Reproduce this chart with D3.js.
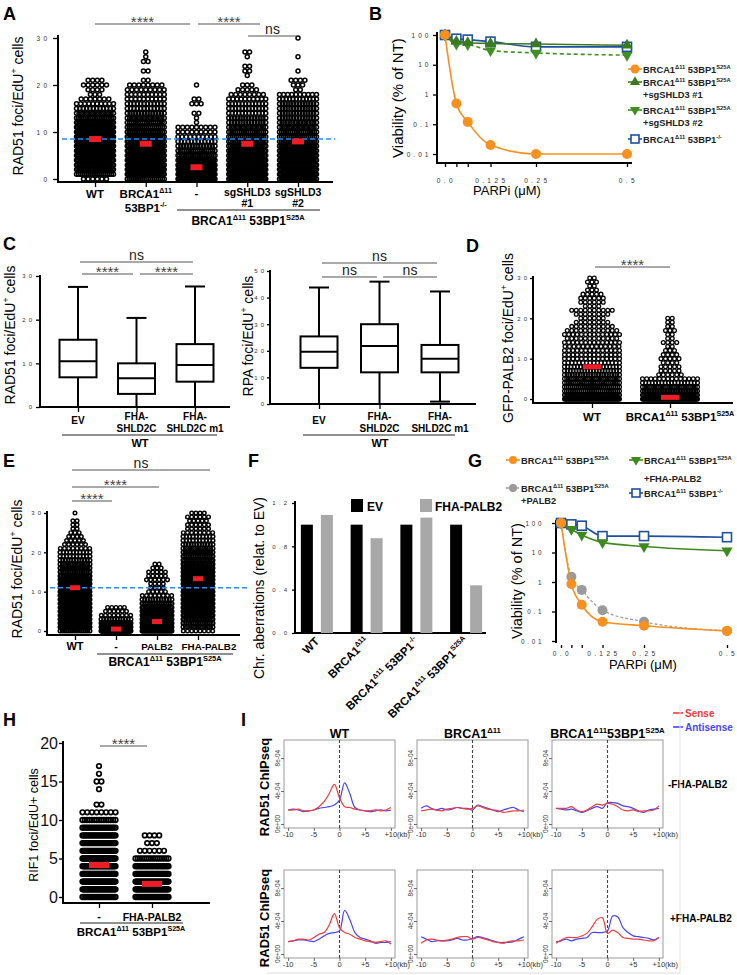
<!DOCTYPE html>
<html>
<head>
<meta charset="utf-8">
<script src="https://cdn.jsdelivr.net/npm/d3@7"></script>
<style>html,body{margin:0;padding:0;background:#fff;}</style>
</head>
<body>
<script>
// ================= DATA =================
// Panel A : RAD51 foci / EdU+ cell. counts = number of cells at each foci value (index = foci)
const catsA = ["WT", "53BP1KO", "S25A", "S25A_sg1", "S25A_sg2"];
const countsA_WT   = [6,20,28,30,32,34,36,38,38,36,34,32,30,22,16,12,10,7,3,4,6,4];
const countsA_KO   = [20,35,35,34,32,30,28,28,26,24,22,20,18,16,14,12,12,10,10,9,8,2,0,2,0,2,1,1];
const countsA_S25A = [40,45,40,35,28,22,18,14,12,10,9,9,1,1,2,0,3,2,0,0,1];
const countsA_sg1  = [30,35,34,32,30,28,26,24,22,20,18,16,14,14,12,12,12,10,8,5,3,0,1,2,2,0,1,2];
const countsA_sg2  = [25,32,32,30,28,28,26,24,22,20,18,16,15,14,14,14,14,12,10,2,3,4,0,1,0,0,1,0,0,0,1];
const meansA = [8.5, 7.5, 2.5, 7.5, 8.0];
const refA = 8.5;
const ticksA = [0, 10, 20, 30];

// Panel B : viability (% of NT) vs PARPi dose
const dosesB = [0, 0.03125, 0.0625, 0.125, 0.25, 0.5];
const viabB_S25A = [100, 0.5, 0.12, 0.02, 0.01, 0.01];
const viabB_sg1  = [100, 60, 55, 52, 50, 45];
const viabB_sg2  = [100, 50, 48, 30, 25, 21];
const viabB_KO   = [100, 75, 70, 60, 40, 40];
const ticksB_y = [0.01, 0.1, 1, 10, 100];
const ticksB_x = [0, 0.125, 0.25, 0.5];
const tickLabelsB_x = ["0.0", "0.125", "0.25", "0.5"];

// Panel C : box plots (whisker low, Q1, median, Q3, whisker high)
const catsC = ["EV", "FHA-SHLD2C", "FHA-SHLD2C m1"];
const rad51C_low = [0, 0, 0];
const rad51C_q1  = [6.8, 3.0, 5.8];
const rad51C_med = [10.5, 6.6, 9.6];
const rad51C_q3  = [15.4, 10.0, 14.4];
const rad51C_high= [27.5, 20.4, 27.6];
const rpaC_low  = [0, 0, 0.9];
const rpaC_q1   = [13.6, 11.9, 11.9];
const rpaC_med  = [19.6, 21.8, 17.0];
const rpaC_q3   = [25.4, 30.0, 22.2];
const rpaC_high = [43.8, 46.0, 42.3];
const ticksC_rad = [0, 10, 20, 30];
const ticksC_rpa = [0, 10, 20, 30, 40, 50];

// Panel D : GFP-PALB2 foci
const catsD = ["WT", "S25A"];
const countsD_WT   = [60,40,30,28,26,25,22,20,18,16,14,14,14,13,14,12,14,12,10,8,6,8,10,4,6,6,5,3,2,3,2];
const countsD_S25A = [70,50,35,25,18,14,6,5,5,4,5,4,3,2,4,2,2,3,2,2,2];
const meansD = [8.0, 0.4];
const ticksD = [0, 10, 20, 30];

// Panel E : RAD51 foci
const catsE = ["WT", "S25A", "S25A_PALB2", "S25A_FHA-PALB2"];
const countsE_WT    = [15,30,32,34,34,34,34,34,34,32,30,30,28,26,22,18,16,14,12,10,10,8,6,5,4,3,2,2,2,0,1];
const countsE_S25A  = [80,60,30,12,8,6,5];
const countsE_PALB2 = [40,45,40,35,30,25,22,18,12,8,5,4,4,6,5,5,3,2];
const countsE_FHA   = [8,14,18,20,22,24,24,26,26,28,28,28,28,28,26,26,24,22,20,18,16,14,12,10,10,8,6,6,5,6,4];
const meansE = [11, 0.5, 2.4, 13.3];
const refE = 11;
const ticksE = [0, 10, 20, 30];

// Panel F : chromosome aberrations relative to EV
const groupsF = ["WT", "BRCA1^Δ11^", "BRCA1^Δ11^ 53BP1^-/-^", "BRCA1^Δ11^ 53BP1^S25A^"];
const seriesF = ["EV", "FHA-PALB2"];
const valuesF_EV  = [1.0, 1.0, 1.0, 1.0];
const valuesF_FHA = [1.09, 0.875, 1.065, 0.44];
const ticksF = [0, 0.4, 0.8, 1.2];
const tickLabelsF = ["0.0", "0.4", "0.8", "1.2"];

// Panel G : viability vs PARPi
const dosesG = [0, 0.03125, 0.0625, 0.125, 0.25, 0.5];
const viabG_S25A  = [100, 0.85, 0.17, 0.045, 0.033, 0.022];
const viabG_PALB2 = [100, 1.5, 0.54, 0.11, 0.045, 0.022];
const viabG_FHA   = [100, 61, 39, 22, 16, 11.5];
const viabG_KO    = [100, 90, 81, 36, 36, 33];

// Panel H : RIF1 foci
const catsH = ["-", "FHA-PALB2"];
const countsH_neg = [20,40,45,45,42,38,34,28,24,20,15,8,2,0,1,2,1,1];
const countsH_FHA = [25,40,40,35,28,16,6,3,4];
const meansH = [4.15, 1.7];
const ticksH = [0, 5, 10, 15, 20];

// Panel I : RAD51 ChIP-seq profiles (units of 1e-4), positions -10..+10 kb
const kbPos = d3.range(-10, 11, 1);
const kbTicks = [-10, -5, 0, 5, 10];
const kbLabels = ["-10", "-5", "0", "+5", "+10(kb)"];
const chipTicks = [0, 4, 8];
const chipLabels = ["0e+00", "4e-04", "8e-04"];
const sense_WT_minus   = [1.7,1.7,1.8,1.6,1.6,1.7,2.1,2.7,3.7,4.8,3.2,2.1,2.0,1.8,1.7,1.6,1.6,1.7,1.6,1.7,2.0];
const anti_WT_minus    = [1.7,1.8,1.7,1.5,1.6,1.7,1.9,2.0,2.1,2.3,2.9,5.0,3.7,2.0,1.7,1.6,1.5,1.6,1.7,1.6,1.7];
const sense_D11_minus  = [1.6,1.7,1.8,1.7,1.6,1.8,1.9,2.0,1.9,1.8,1.9,2.2,2.0,1.8,1.7,1.6,1.4,1.5,1.6,1.6,1.7];
const anti_D11_minus   = [1.9,2.2,1.9,1.7,1.9,1.7,1.8,2.0,1.9,1.9,1.7,2.3,2.1,1.9,1.7,1.5,1.7,1.9,2.0,1.7,1.5];
const sense_S25A_minus = [1.9,1.9,1.9,2.1,1.7,1.5,1.7,2.1,2.4,2.3,2.5,2.4,2.1,1.7,1.6,1.7,1.5,1.6,1.6,1.7,2.2];
const anti_S25A_minus  = [1.9,1.8,1.7,1.8,1.6,1.4,1.6,1.9,2.1,1.9,2.6,2.6,2.5,2.2,2.1,1.9,1.6,1.4,1.7,1.8,1.9];
const sense_WT_plus    = [1.5,1.6,1.8,1.8,1.7,2.0,2.4,2.6,3.5,4.9,3.2,2.6,2.4,2.0,1.8,1.6,1.5,1.4,1.5,1.6,1.2];
const anti_WT_plus     = [1.5,1.6,1.7,1.7,1.6,1.5,1.8,2.2,2.5,2.6,2.8,5.3,4.2,2.6,2.0,1.8,1.6,1.3,1.4,1.4,1.5];
const sense_D11_plus   = [1.3,1.7,1.8,1.7,1.6,1.7,1.8,2.0,2.1,2.1,1.8,2.0,1.9,1.7,1.5,1.4,1.3,1.5,1.6,1.6,1.7];
const anti_D11_plus    = [2.1,1.8,1.5,1.6,1.6,1.6,1.7,1.9,1.7,1.7,1.9,2.1,2.0,1.8,1.6,1.4,1.4,1.4,1.5,1.8,2.1];
const sense_S25A_plus  = [1.3,1.7,2.0,2.0,2.0,2.2,2.5,3.3,4.2,4.4,2.5,2.9,2.6,2.0,1.9,1.8,1.8,1.7,1.6,1.6,2.0];
const anti_S25A_plus   = [1.5,1.6,1.8,1.6,1.8,1.9,2.0,2.6,2.6,2.6,2.8,4.6,4.5,3.2,2.6,2.2,2.1,2.0,1.9,1.7,2.0];
const chipTitles = ["WT", "BRCA1^Δ11^", "BRCA1^Δ11^53BP1^S25A^"];

// ================= DRAWING =================
const FONT = "Arial, 'Liberation Sans', Helvetica, sans-serif";
const svg = d3.select("body").append("svg").attr("width", 737).attr("height", 975)
  .attr("font-family", FONT);
svg.append("rect").attr("width", 737).attr("height", 975).attr("fill", "#fff");

const spaced = s => String(s).split("").join(" ");

function rich(t, str, fs) {
  let shift = 0;
  str.split("^").forEach((p, i) => {
    if (!p) return;
    const sup = i % 2 === 1;
    const target = sup ? -0.42 * fs : 0;
    const ts = t.append("tspan").text(p);
    if (target - shift !== 0) ts.attr("dy", target - shift);
    if (sup) ts.attr("font-size", fs * 0.62);
    shift = target;
  });
}
function txt(g, x, y, str, o = {}) {
  const fs = o.fs || 11;
  const t = g.append("text").attr("x", x).attr("y", y).attr("font-size", fs)
    .attr("text-anchor", o.anchor || "middle").attr("font-weight", o.bold ? "bold" : "normal")
    .attr("fill", o.fill || "#000");
  if (o.rot != null) t.attr("transform", `rotate(${o.rot},${x},${y})`);
  if (o.ls != null) t.attr("letter-spacing", o.ls);
  rich(t, str, fs);
  return t;
}
function hline(g, y, x0, x1, w, c, dash) {
  const l = g.append("line").attr("x1", x0).attr("x2", x1).attr("y1", y).attr("y2", y)
    .attr("stroke", c || "#000").attr("stroke-width", w || 1);
  if (dash) l.attr("stroke-dasharray", dash);
  return l;
}
function vline(g, x, y0, y1, w, c, dash) {
  const l = g.append("line").attr("x1", x).attr("x2", x).attr("y1", y0).attr("y2", y1)
    .attr("stroke", c || "#000").attr("stroke-width", w || 1);
  if (dash) l.attr("stroke-dasharray", dash);
  return l;
}
function gpYAxis(g, x, scale, ticks, o) {
  const ax = d3.axisLeft(scale).tickValues(ticks).tickSize(o.ts).tickPadding(o.pad)
    .tickFormat(o.fmt || (d => spaced(d)));
  const a = g.append("g").attr("transform", `translate(${x},0)`).call(ax)
    .attr("font-family", FONT).attr("font-size", o.fs || 6.5);
  a.select(".domain").remove();
  a.selectAll(".tick line").attr("stroke", "#000").attr("stroke-width", o.tw || 1.3);
  a.selectAll(".tick text").attr("fill", o.fill || "#333").attr("letter-spacing", o.ls == null ? 0.8 : o.ls);
  if (o.y0 != null) vline(g, x, o.y0, o.y1, o.lw || 2);
  return a;
}
function catTicks(g, scale, y, len, vals) {
  const ax = d3.axisBottom(scale).tickSize(len).tickFormat("");
  if (vals) ax.tickValues(vals);
  const a = g.append("g").attr("transform", `translate(0,${y})`).call(ax);
  a.select(".domain").remove();
  a.selectAll(".tick line").attr("stroke", "#000").attr("stroke-width", 1.3);
  return a;
}
function swarm(g, cx, counts, y, maxW, r, sp, sw) {
  const pts = [];
  counts.forEach((n, v) => {
    if (!n) return;
    const w = Math.min((n - 1) * sp, maxW);
    const s = n > 1 ? w / (n - 1) : 0;
    for (let i = 0; i < n; i++) pts.push({ x: cx - w / 2 + i * s, v });
  });
  g.append("g").selectAll("circle").data(pts).join("circle")
    .attr("cx", d => d.x).attr("cy", d => y(d.v)).attr("r", r)
    .attr("fill", "none").attr("stroke", "#000").attr("stroke-width", sw || 1.5);
}
function meanBar(g, cx, y, w, h) {
  g.append("rect").attr("x", cx - w / 2).attr("y", y - h / 2).attr("width", w).attr("height", h)
    .attr("fill", "#ee1c24");
}
function sig(g, x0, x1, y, label) {
  hline(g, y, x0, x1, 1.2, "#555");
  if (label === "ns") txt(g, (x0 + x1) / 2, y - 2, "ns", { fs: 14, fill: "#222" });
  else txt(g, (x0 + x1) / 2, y + 2.5, label, { fs: 15, fill: "#444" });
}
function marker(g, type, x, y, color, sz) {
  if (type === "circle") {
    g.append("circle").attr("cx", x).attr("cy", y).attr("r", sz).attr("fill", color);
  } else if (type === "up" || type === "down") {
    g.append("path").attr("d", d3.symbol(d3.symbolTriangle, sz * sz * 2.2)())
      .attr("transform", `translate(${x},${y})` + (type === "down" ? " rotate(180)" : ""))
      .attr("fill", color);
  } else if (type === "square") {
    g.append("rect").attr("x", x - sz).attr("y", y - sz).attr("width", 2 * sz).attr("height", 2 * sz)
      .attr("fill", "#fff").attr("stroke", color).attr("stroke-width", 1.6);
  }
}
function series(g, xs, ys, doses, vals, o) {
  const pts = doses.map((d, i) => [xs(d), ys(vals[i])]);
  const p = g.append("path").attr("d", d3.line().curve(d3.curveMonotoneX)(pts))
    .attr("fill", "none").attr("stroke", o.color).attr("stroke-width", o.lw || 1.6);
  if (o.dash) p.attr("stroke-dasharray", o.dash);
  pts.forEach(q => marker(g, o.type, q[0], q[1], o.mcolor || o.color, o.sz));
}
function legendItem(g, x, y, type, color, sz, label, label2, fs, dash) {
  const l = hline(g, y, x - 7, x + 7, 1.6, color);
  if (dash) l.attr("stroke-dasharray", dash);
  marker(g, type, x, y, color, sz);
  txt(g, x + 8, y + 3.5, label, { fs: fs, bold: true, anchor: "start", fill: "#222" });
  if (label2) txt(g, x + 8, y + 16, label2, { fs: fs, bold: true, anchor: "start", fill: "#222" });
}

// Panel letters
[["A", 3, 20], ["B", 369, 20], ["C", 3, 250], ["D", 466, 252], ["E", 3, 467], ["F", 248, 467],
 ["G", 468, 467], ["H", 3, 726], ["I", 241, 726]].forEach(p =>
  txt(svg, p[1], p[2], p[0], { fs: 18, bold: true, anchor: "start" }));

// ---------- Panel A ----------
{
  const g = svg.append("g");
  const xA = d3.scalePoint().domain(catsA).range([95, 298]);
  const yA = d3.scaleLinear().domain([0, 30]).range([179, 38]);
  gpYAxis(g, 58, yA, ticksA, { ts: 5, pad: 5, y0: 35, y1: 183 });
  hline(g, 182, 57, 333, 2);
  catTicks(g, xA, 183, 4);
  [countsA_WT, countsA_KO, countsA_S25A, countsA_sg1, countsA_sg2].forEach((c, i) =>
    swarm(g, xA(catsA[i]), c, yA, 37, 2.0, 4.6, 1.5));
  hline(g, yA(refA), 62, 335, 1.6, "#1e8fff", "5,3");
  meansA.forEach((m, i) => meanBar(g, xA(catsA[i]), yA(m), 12, 6));
  txt(g, 23, 106, "RAD51 foci/EdU^+^ cells", { fs: 14, rot: -90 });
  sig(g, 95, 190, 24, "****");
  sig(g, 198, 260, 24, "****");
  sig(g, 248, 297, 36, "ns");
  txt(g, xA(catsA[0]), 198, "WT", { fs: 11.5, bold: true });
  txt(g, xA(catsA[1]), 198, "BRCA1^Δ11^", { fs: 11.5, bold: true });
  txt(g, xA(catsA[1]), 212, "53BP1^-/-^", { fs: 11.5, bold: true });
  txt(g, xA(catsA[2]), 197, "-", { fs: 11.5, bold: true });
  txt(g, xA(catsA[3]), 196, "sgSHLD3", { fs: 10.5, bold: true });
  txt(g, xA(catsA[3]), 207, "#1", { fs: 10.5, bold: true });
  txt(g, xA(catsA[4]), 196, "sgSHLD3", { fs: 10.5, bold: true });
  txt(g, xA(catsA[4]), 207, "#2", { fs: 10.5, bold: true });
  hline(g, 210, 177, 320, 1.2, "#222");
  txt(g, 248, 225, "BRCA1^Δ11^ 53BP1^S25A^", { fs: 12, bold: true });
}

// ---------- Panel B ----------
{
  const g = svg.append("g");
  const xB = d3.scaleLinear().domain([0, 0.5]).range([445, 627]);
  const yB = d3.scaleLog().domain([0.01, 100]).range([154, 35]);
  gpYAxis(g, 437, yB, ticksB_y, { ts: 4, pad: 4, y0: 32, y1: 164, ls: 0.6 });
  hline(g, 163, 436, 632, 2);
  const ax = d3.axisBottom(xB).tickValues(dosesB).tickSize(4).tickFormat("");
  const a = g.append("g").attr("transform", "translate(0,163)").call(ax);
  a.select(".domain").remove();
  a.selectAll(".tick line").attr("stroke-width", 1.3);
  ticksB_x.forEach((t, i) => txt(g, xB(t), 183, spaced(tickLabelsB_x[i]), { fs: 6.5, fill: "#333", ls: 0.8 }));
  txt(g, 507, 195, "PARPi (μM)", { fs: 13 });
  txt(g, 403, 98, "Viability (% of NT)", { fs: 15, rot: -90 });
  series(g, xB, yB, dosesB, viabB_KO, { color: "#1f4fa0", type: "square", sz: 4.5 });
  series(g, xB, yB, dosesB, viabB_sg2, { color: "#3f8f22", type: "down", sz: 5, dash: "4,3" });
  series(g, xB, yB, dosesB, viabB_sg1, { color: "#3b7a1f", type: "up", sz: 5 });
  series(g, xB, yB, dosesB, viabB_S25A, { color: "#f7901e", type: "circle", sz: 5 });
  legendItem(g, 635, 69, "circle", "#f7901e", 4.5, "BRCA1^Δ11^ 53BP1^S25A^", null, 9.3);
  legendItem(g, 635, 82, "up", "#3b7a1f", 4.5, "BRCA1^Δ11^ 53BP1^S25A^", "+sgSHLD3 #1", 9.3);
  legendItem(g, 635, 110, "down", "#3f8f22", 4.5, "BRCA1^Δ11^ 53BP1^S25A^", "+sgSHLD3 #2", 9.3);
  legendItem(g, 635, 139, "square", "#1f4fa0", 4, "BRCA1^Δ11^ 53BP1^-/-^", null, 9.3);
}

// ---------- Panel C ----------
function boxPlot(g, xs, ys, cats, low, q1, med, q3, high) {
  cats.forEach((c, i) => {
    const cx = xs(c);
    vline(g, cx, ys(high[i]), ys(q3[i]), 2);
    vline(g, cx, ys(q1[i]), ys(low[i]), 2);
    hline(g, ys(high[i]), cx - 10, cx + 10, 2);
    if (low[i] > 0.5) hline(g, ys(low[i]), cx - 10, cx + 10, 2);
    g.append("rect").attr("x", cx - 18.5).attr("y", ys(q3[i])).attr("width", 37)
      .attr("height", ys(q1[i]) - ys(q3[i])).attr("fill", "#fff").attr("stroke", "#000").attr("stroke-width", 2);
    hline(g, ys(med[i]), cx - 18.5, cx + 18.5, 2);
  });
}
{
  const g = svg.append("g");
  const xC = d3.scalePoint().domain(catsC).range([78, 195]);
  const yC = d3.scaleLinear().domain([0, 30]).range([407, 276]);
  gpYAxis(g, 40, yC, ticksC_rad, { ts: 4, pad: 3, y0: 275, y1: 408, fs: 6 });
  hline(g, 407, 39, 230, 2);
  catTicks(g, xC, 408, 4);
  boxPlot(g, xC, yC, catsC, rad51C_low, rad51C_q1, rad51C_med, rad51C_q3, rad51C_high);
  txt(g, 15, 335, "RAD51 foci/EdU^+^ cells", { fs: 14, rot: -90 });
  sig(g, 80, 193, 262, "ns");
  sig(g, 82, 133, 274, "****");
  sig(g, 140, 193, 274, "****");
  txt(g, xC(catsC[0]), 424, "EV", { fs: 10, bold: true });
  txt(g, xC(catsC[1]), 420, "FHA-", { fs: 10, bold: true });
  txt(g, xC(catsC[1]), 432, "SHLD2C", { fs: 10, bold: true });
  txt(g, xC(catsC[2]), 420, "FHA-", { fs: 10, bold: true });
  txt(g, xC(catsC[2]), 432, "SHLD2C m1", { fs: 10, bold: true });
  hline(g, 435, 62, 217, 1.2, "#222");
  txt(g, 140, 447, "WT", { fs: 11, bold: true });

  const xR = d3.scalePoint().domain(catsC).range([319, 440]);
  const yR = d3.scaleLinear().domain([0, 50]).range([404, 271]);
  gpYAxis(g, 270, yR, ticksC_rpa, { ts: 3, pad: 2, y0: 270, y1: 405, fs: 6 });
  hline(g, 404, 269, 476, 2);
  catTicks(g, xR, 405, 4);
  boxPlot(g, xR, yR, catsC, rpaC_low, rpaC_q1, rpaC_med, rpaC_q3, rpaC_high);
  txt(g, 253, 336, "RPA foci/EdU^+^ cells", { fs: 14, rot: -90 });
  sig(g, 322, 437, 263, "ns");
  sig(g, 322, 377, 277, "ns");
  sig(g, 383, 437, 277, "ns");
  txt(g, xR(catsC[0]), 424, "EV", { fs: 10, bold: true });
  txt(g, xR(catsC[1]), 420, "FHA-", { fs: 10, bold: true });
  txt(g, xR(catsC[1]), 432, "SHLD2C", { fs: 10, bold: true });
  txt(g, xR(catsC[2]), 420, "FHA-", { fs: 10, bold: true });
  txt(g, xR(catsC[2]), 432, "SHLD2C m1", { fs: 10, bold: true });
  hline(g, 435, 303, 455, 1.2, "#222");
  txt(g, 380, 447, "WT", { fs: 11, bold: true });
}

// ---------- Panel D ----------
{
  const g = svg.append("g");
  const xD = d3.scalePoint().domain(catsD).range([592, 670]);
  const yD = d3.scaleLinear().domain([0, 30]).range([399, 278]);
  gpYAxis(g, 533, yD, ticksD, { ts: 3, pad: 2, y0: 276, y1: 404, fs: 6 });
  hline(g, 403, 532, 733, 2);
  catTicks(g, xD, 404, 4);
  [countsD_WT, countsD_S25A].forEach((c, i) => swarm(g, xD(catsD[i]), c, yD, 55, 1.9, 4.5, 1.3));
  meansD.forEach((m, i) => meanBar(g, xD(catsD[i]), yD(m), 18, 5));
  txt(g, 513, 338, "GFP-PALB2 foci/EdU^+^ cells", { fs: 14, rot: -90 });
  sig(g, 595, 670, 267, "****");
  txt(g, 592, 421, "WT", { fs: 11.5, bold: true });
  txt(g, 680, 421, "BRCA1^Δ11^ 53BP1^S25A^", { fs: 11.5, bold: true });
}

// ---------- Panel E ----------
{
  const g = svg.append("g");
  const xE = d3.scalePoint().domain(catsE).range([75, 198]);
  const yE = d3.scaleLinear().domain([0, 30]).range([631, 513]);
  gpYAxis(g, 47, yE, ticksE, { ts: 3, pad: 2, y0: 511, y1: 636, fs: 6 });
  hline(g, 635, 46, 240, 2);
  catTicks(g, xE, 636, 4);
  [countsE_WT, countsE_S25A, countsE_PALB2, countsE_FHA].forEach((c, i) =>
    swarm(g, xE(catsE[i]), c, yE, 30, 1.8, 4.2, 1.45));
  hline(g, yE(refE), 50, 248, 1.6, "#1e8fff", "5,3");
  meansE.forEach((m, i) => meanBar(g, xE(catsE[i]), yE(m), 10, 5));
  txt(g, 22, 569, "RAD51 foci/EdU^+^ cells", { fs: 14, rot: -90 });
  sig(g, 72, 210, 470, "ns");
  sig(g, 72, 159, 487, "****");
  sig(g, 72, 112, 501, "****");
  txt(g, xE(catsE[0]), 650, "WT", { fs: 11, bold: true });
  txt(g, xE(catsE[1]), 650, "-", { fs: 11, bold: true });
  txt(g, 157, 650, "PALB2", { fs: 9.8, bold: true });
  txt(g, 209, 650, "FHA-PALB2", { fs: 9.8, bold: true });
  hline(g, 654, 97, 233, 1.2, "#222");
  txt(g, 165, 666, "BRCA1^Δ11^ 53BP1^S25A^", { fs: 12, bold: true });
}

// ---------- Panel F ----------
{
  const g = svg.append("g");
  const xF = d3.scaleBand().domain(groupsF).range([292, 491]);
  const xSub = d3.scaleBand().domain(seriesF).range([-16, 16]).paddingInner(0.4);
  const yF = d3.scaleLinear().domain([0, 1.2]).range([633, 503]);
  gpYAxis(g, 295, yF, ticksF, { ts: 3, pad: 4, y0: 501, y1: 634, fs: 6, fmt: (d, i) => spaced(tickLabelsF[i]) });
  hline(g, 633, 294, 486, 2);
  const cols = { "EV": "#000", "FHA-PALB2": "#a8a8a8" };
  groupsF.forEach((grp, i) => {
    const c = xF(grp) + xF.bandwidth() / 2;
    [["EV", valuesF_EV[i]], ["FHA-PALB2", valuesF_FHA[i]]].forEach(([s, v]) => {
      g.append("rect").attr("x", c + xSub(s)).attr("y", yF(v)).attr("width", xSub.bandwidth())
        .attr("height", yF(0) - yF(v)).attr("fill", cols[s]);
    });
    txt(g, c + 3, 642, grp, { fs: 11.5, bold: true, anchor: "end", rot: -45 });
  });
  g.append("rect").attr("x", 351).attr("y", 499).attr("width", 12).attr("height", 13).attr("fill", "#000");
  txt(g, 367, 511, "EV", { fs: 12, bold: true, anchor: "start" });
  g.append("rect").attr("x", 420).attr("y", 499).attr("width", 12).attr("height", 13).attr("fill", "#a8a8a8");
  txt(g, 435, 511, "FHA-PALB2", { fs: 12, bold: true, anchor: "start" });
  txt(g, 264, 588, "Chr. aberrations (relat. to EV)", { fs: 14, rot: -90 });
}

// ---------- Panel G ----------
{
  const g = svg.append("g");
  const xG = d3.scaleLinear().domain([0, 0.5]).range([561, 727]);
  const yG = d3.scaleLog().domain([0.01, 100]).range([641, 523]);
  gpYAxis(g, 556, yG, ticksB_y, { ts: 4, pad: 10, y0: 520, y1: 643, ls: 0.5, fs: 6.3 });
  const ax = d3.axisBottom(xG).tickValues(dosesG).tickSize(3).tickFormat("");
  const a = g.append("g").attr("transform", "translate(0,645)").call(ax);
  a.select(".domain").remove();
  a.selectAll(".tick line").attr("stroke-width", 1.3);
  ticksB_x.forEach((t, i) => txt(g, xG(t), 656, spaced(tickLabelsB_x[i]), { fs: 6.5, fill: "#333", ls: 0.8 }));
  txt(g, 643, 669, "PARPi (μM)", { fs: 13 });
  txt(g, 522, 581, "Viability (% of NT)", { fs: 14.5, rot: -90 });
  series(g, xG, yG, dosesG, viabG_KO, { color: "#1f4fa0", type: "square", sz: 4.5 });
  series(g, xG, yG, dosesG, viabG_FHA, { color: "#3f8a1e", type: "down", sz: 5 });
  series(g, xG, yG, dosesG, viabG_PALB2, { color: "#9a9a9a", type: "circle", sz: 5, dash: "3,2", lw: 1.2 });
  series(g, xG, yG, dosesG, viabG_S25A, { color: "#f7901e", type: "circle", sz: 5 });
  legendItem(g, 513, 460, "circle", "#f7901e", 4, "BRCA1^Δ11^ 53BP1^S25A^", null, 9.3);
  legendItem(g, 513, 488, "circle", "#9a9a9a", 4, "BRCA1^Δ11^ 53BP1^S25A^", "+PALB2", 9.3, "3,2");
  legendItem(g, 636, 460, "down", "#3f8a1e", 4.5, "BRCA1^Δ11^ 53BP1^S25A^", null, 9.3);
  txt(g, 644, 482, "+FHA-PALB2", { fs: 9.3, bold: true, anchor: "start", fill: "#222" });
  legendItem(g, 636, 493, "square", "#1f4fa0", 4, "BRCA1^Δ11^ 53BP1^-/-^", null, 9.3);
}

// ---------- Panel H ----------
{
  const g = svg.append("g");
  const xH = d3.scalePoint().domain(catsH).range([99, 152]);
  const yH = d3.scaleLinear().domain([0, 20]).range([897, 743]);
  gpYAxis(g, 63, yH, ticksH, { ts: 4, pad: 1, y0: 741, y1: 904, fs: 16, ls: 0, fill: "#111", fmt: d => d });
  hline(g, 903, 62, 210, 2);
  catTicks(g, xH, 904, 4);
  [countsH_neg, countsH_FHA].forEach((c, i) => swarm(g, xH(catsH[i]), c, yH, 33, 2.3, 4.8, 1.7));
  meansH.forEach((m, i) => meanBar(g, xH(catsH[i]), yH(m), 20, 6));
  txt(g, 38, 825, "RIF1 foci/EdU+ cells", { fs: 12.5, rot: -90 });
  sig(g, 100, 147, 746, "****");
  txt(g, xH(catsH[0]), 920, "-", { fs: 11, bold: true });
  txt(g, xH(catsH[1]), 921, "FHA-PALB2", { fs: 10.5, bold: true });
  hline(g, 923, 80, 183, 1.2, "#222");
  txt(g, 131, 936, "BRCA1^Δ11^ 53BP1^S25A^", { fs: 11.5, bold: true });
}

// ---------- Panel I ----------
{
  const g = svg.append("g");
  const plots = [
    [284, 740, sense_WT_minus, anti_WT_minus], [417, 740, sense_D11_minus, anti_D11_minus],
    [552, 740, sense_S25A_minus, anti_S25A_minus],
    [284, 870, sense_WT_plus, anti_WT_plus], [417, 870, sense_D11_plus, anti_D11_plus],
    [552, 870, sense_S25A_plus, anti_S25A_plus]];
  plots.forEach(([x0, y0, s, an], k) => {
    const xs = d3.scaleLinear().domain([-10.8, 10.8]).range([x0, x0 + 111]);
    const ys = d3.scaleLinear().domain([-0.49, 10.2]).range([y0 + 88, y0]);
    g.append("rect").attr("x", x0).attr("y", y0).attr("width", 111).attr("height", 88)
      .attr("fill", "#fff").attr("stroke", "#999").attr("stroke-width", 1);
    const ax = d3.axisBottom(xs).tickValues(kbTicks).tickSize(3).tickFormat("");
    const a = g.append("g").attr("transform", `translate(0,${y0 + 88})`).call(ax);
    a.select(".domain").remove();
    a.selectAll(".tick line").attr("stroke", "#666");
    kbTicks.forEach((t, i) => {
      if (i === 4) txt(g, xs(t) - 6.5, y0 + 97, kbLabels[i], { fs: 7.5, fill: "#333", anchor: "start" });
      else txt(g, xs(t), y0 + 97, kbLabels[i], { fs: 7.5, fill: "#333" });
    });
    const ay = d3.axisLeft(ys).tickValues(chipTicks).tickSize(3).tickFormat("");
    const b = g.append("g").attr("transform", `translate(${x0},0)`).call(ay);
    b.select(".domain").remove();
    b.selectAll(".tick line").attr("stroke", "#666");
    chipTicks.forEach((t, i) => txt(g, x0 - 4, ys(t), chipLabels[i], { fs: 6.5, fill: "#333", rot: -90 }));
    vline(g, xs(0), y0, y0 + 88, 1.1, "#444", "3,2");
    const line = d3.line().curve(d3.curveCatmullRom.alpha(0.5)).x((d, i) => xs(kbPos[i])).y(d => ys(d));
    g.append("path").attr("d", line(an)).attr("fill", "none").attr("stroke", "#4646ff").attr("stroke-width", 1.2);
    g.append("path").attr("d", line(s)).attr("fill", "none").attr("stroke", "#f03c3c").attr("stroke-width", 1.2);
    if (k < 3) txt(g, x0 + 55.5, 738, chipTitles[k], { fs: 12.5, bold: true });
  });
  txt(g, 269, 787, "RAD51 ChIPseq", { fs: 13, bold: true, rot: -90 });
  txt(g, 269, 918, "RAD51 ChIPseq", { fs: 13, bold: true, rot: -90 });
  hline(g, 713, 673, 683, 1.6, "#f03c3c");
  txt(g, 685, 717, "Sense", { fs: 10, bold: true, anchor: "start", fill: "#f03c3c" });
  hline(g, 727, 673, 683, 1.6, "#4646ff");
  txt(g, 685, 731, "Antisense", { fs: 10, bold: true, anchor: "start", fill: "#4646ff" });
  txt(g, 668, 788, "-FHA-PALB2", { fs: 10, bold: true, anchor: "start" });
  txt(g, 670, 922, "+FHA-PALB2", { fs: 10, bold: true, anchor: "start" });
  hline(g, 973, 267, 680, 1, "#ddd");
  vline(g, 680, 705, 973, 1, "#e4e4e4");
}
</script>
</body>
</html>
